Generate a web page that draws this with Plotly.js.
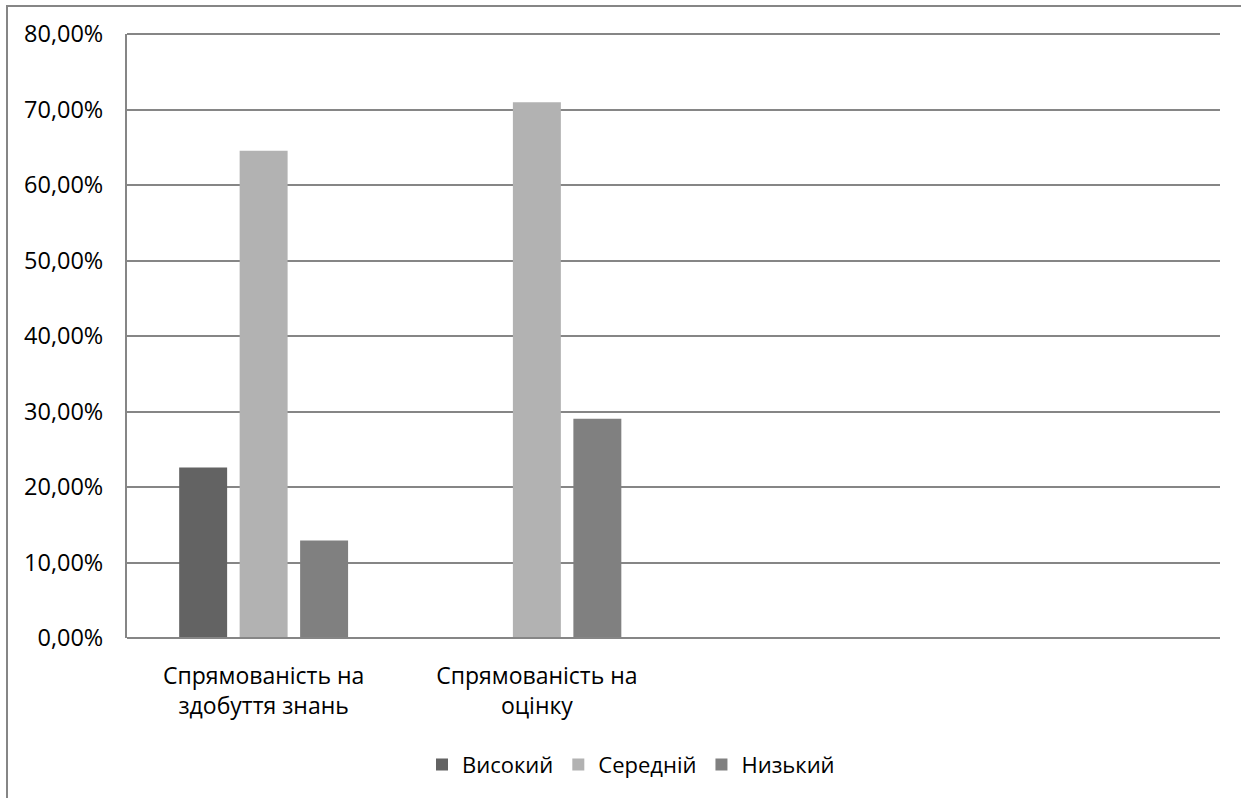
<!DOCTYPE html>
<html>
<head>
<meta charset="utf-8">
<script src="https://cdn.plot.ly/plotly-3.0.1.min.js"></script>
<style>
  html, body { margin: 0; padding: 0; background: #fff; }
  #chart { width: 1241px; height: 798px; }
</style>
</head>
<body>
<div id="chart"></div>
<script>
const categories = ['Спрямованість на<br>здобуття знань', 'Спрямованість на<br>оцінку'];
const seriesNames = ['Високий', 'Середній', 'Низький'];
const valuesHigh = [0.2258, 0];
const valuesMid = [0.6452, 0.7097];
const valuesLow = [0.1290, 0.2903];
const yTicks = [0, 0.1, 0.2, 0.3, 0.4, 0.5, 0.6, 0.7, 0.8];

const colors = ['#636363', '#b2b2b2', '#808080'];
const font = '"Open Sans", "Noto Sans", sans-serif';
const gridColor = '#868686';

const traces = [valuesHigh, valuesMid, valuesLow].map((vals, i) => ({
  type: 'bar',
  name: seriesNames[i],
  x: categories,
  y: vals,
  marker: { color: colors[i], line: { width: 0 } },
  hoverinfo: 'skip'
}));

const W = 1241, H = 798;
const ml = 127, mr = 21, mt = 34, mb = 158;
const pw = W - ml - mr, ph = H - mt - mb;
const px = (x) => (x - ml) / pw;
const py = (y) => (H - mb - y) / ph;

const layout = {
  width: W, height: H,
  margin: { l: ml, r: mr, t: mt, b: mb, pad: 0 },
  paper_bgcolor: '#ffffff',
  plot_bgcolor: '#ffffff',
  separators: ', ',
  barmode: 'group',
  bargap: 0.336,
  bargroupgap: 0.207,
  font: { family: font, size: 23, color: '#000' },
  showlegend: true,
  legend: {
    orientation: 'h',
    x: px(631), xanchor: 'center',
    y: py(767), yanchor: 'middle',
    font: { family: font, size: 22, color: '#000' },
    itemwidth: 30,
    traceorder: 'normal'
  },
  xaxis: {
    type: 'category',
    range: [-0.5, 3.5],
    showgrid: false,
    zeroline: false,
    showline: false,
    ticks: '',
    ticklabelstandoff: 22,
    tickfont: { family: font, size: 23, color: '#000' },
    fixedrange: true
  },
  yaxis: {
    range: [0, 0.8],
    tickvals: yTicks,
    tickformat: '.2%',
    showgrid: true,
    gridcolor: gridColor,
    gridwidth: 2,
    zeroline: false,
    showline: true,
    linecolor: gridColor,
    linewidth: 2,
    ticks: '',
    ticklabelstandoff: 17,
    tickfont: { family: font, size: 23.5, color: '#000' },
    fixedrange: true
  },
  shapes: [
    { type: 'line', xref: 'paper', yref: 'paper', x0: 0, x1: 1, y0: 0, y1: 0,
      line: { color: gridColor, width: 2 } },
    { type: 'line', xref: 'paper', yref: 'paper', x0: 0, x1: 1, y0: 1, y1: 1,
      line: { color: gridColor, width: 2 } },
    { type: 'rect', xref: 'paper', yref: 'paper',
      x0: px(7), x1: px(1260), y0: py(820), y1: py(6),
      line: { color: gridColor, width: 2 }, fillcolor: 'rgba(0,0,0,0)', layer: 'below' }
  ]
};

Plotly.newPlot('chart', traces, layout, { displayModeBar: false, staticPlot: true });
</script>
</body>
</html>
